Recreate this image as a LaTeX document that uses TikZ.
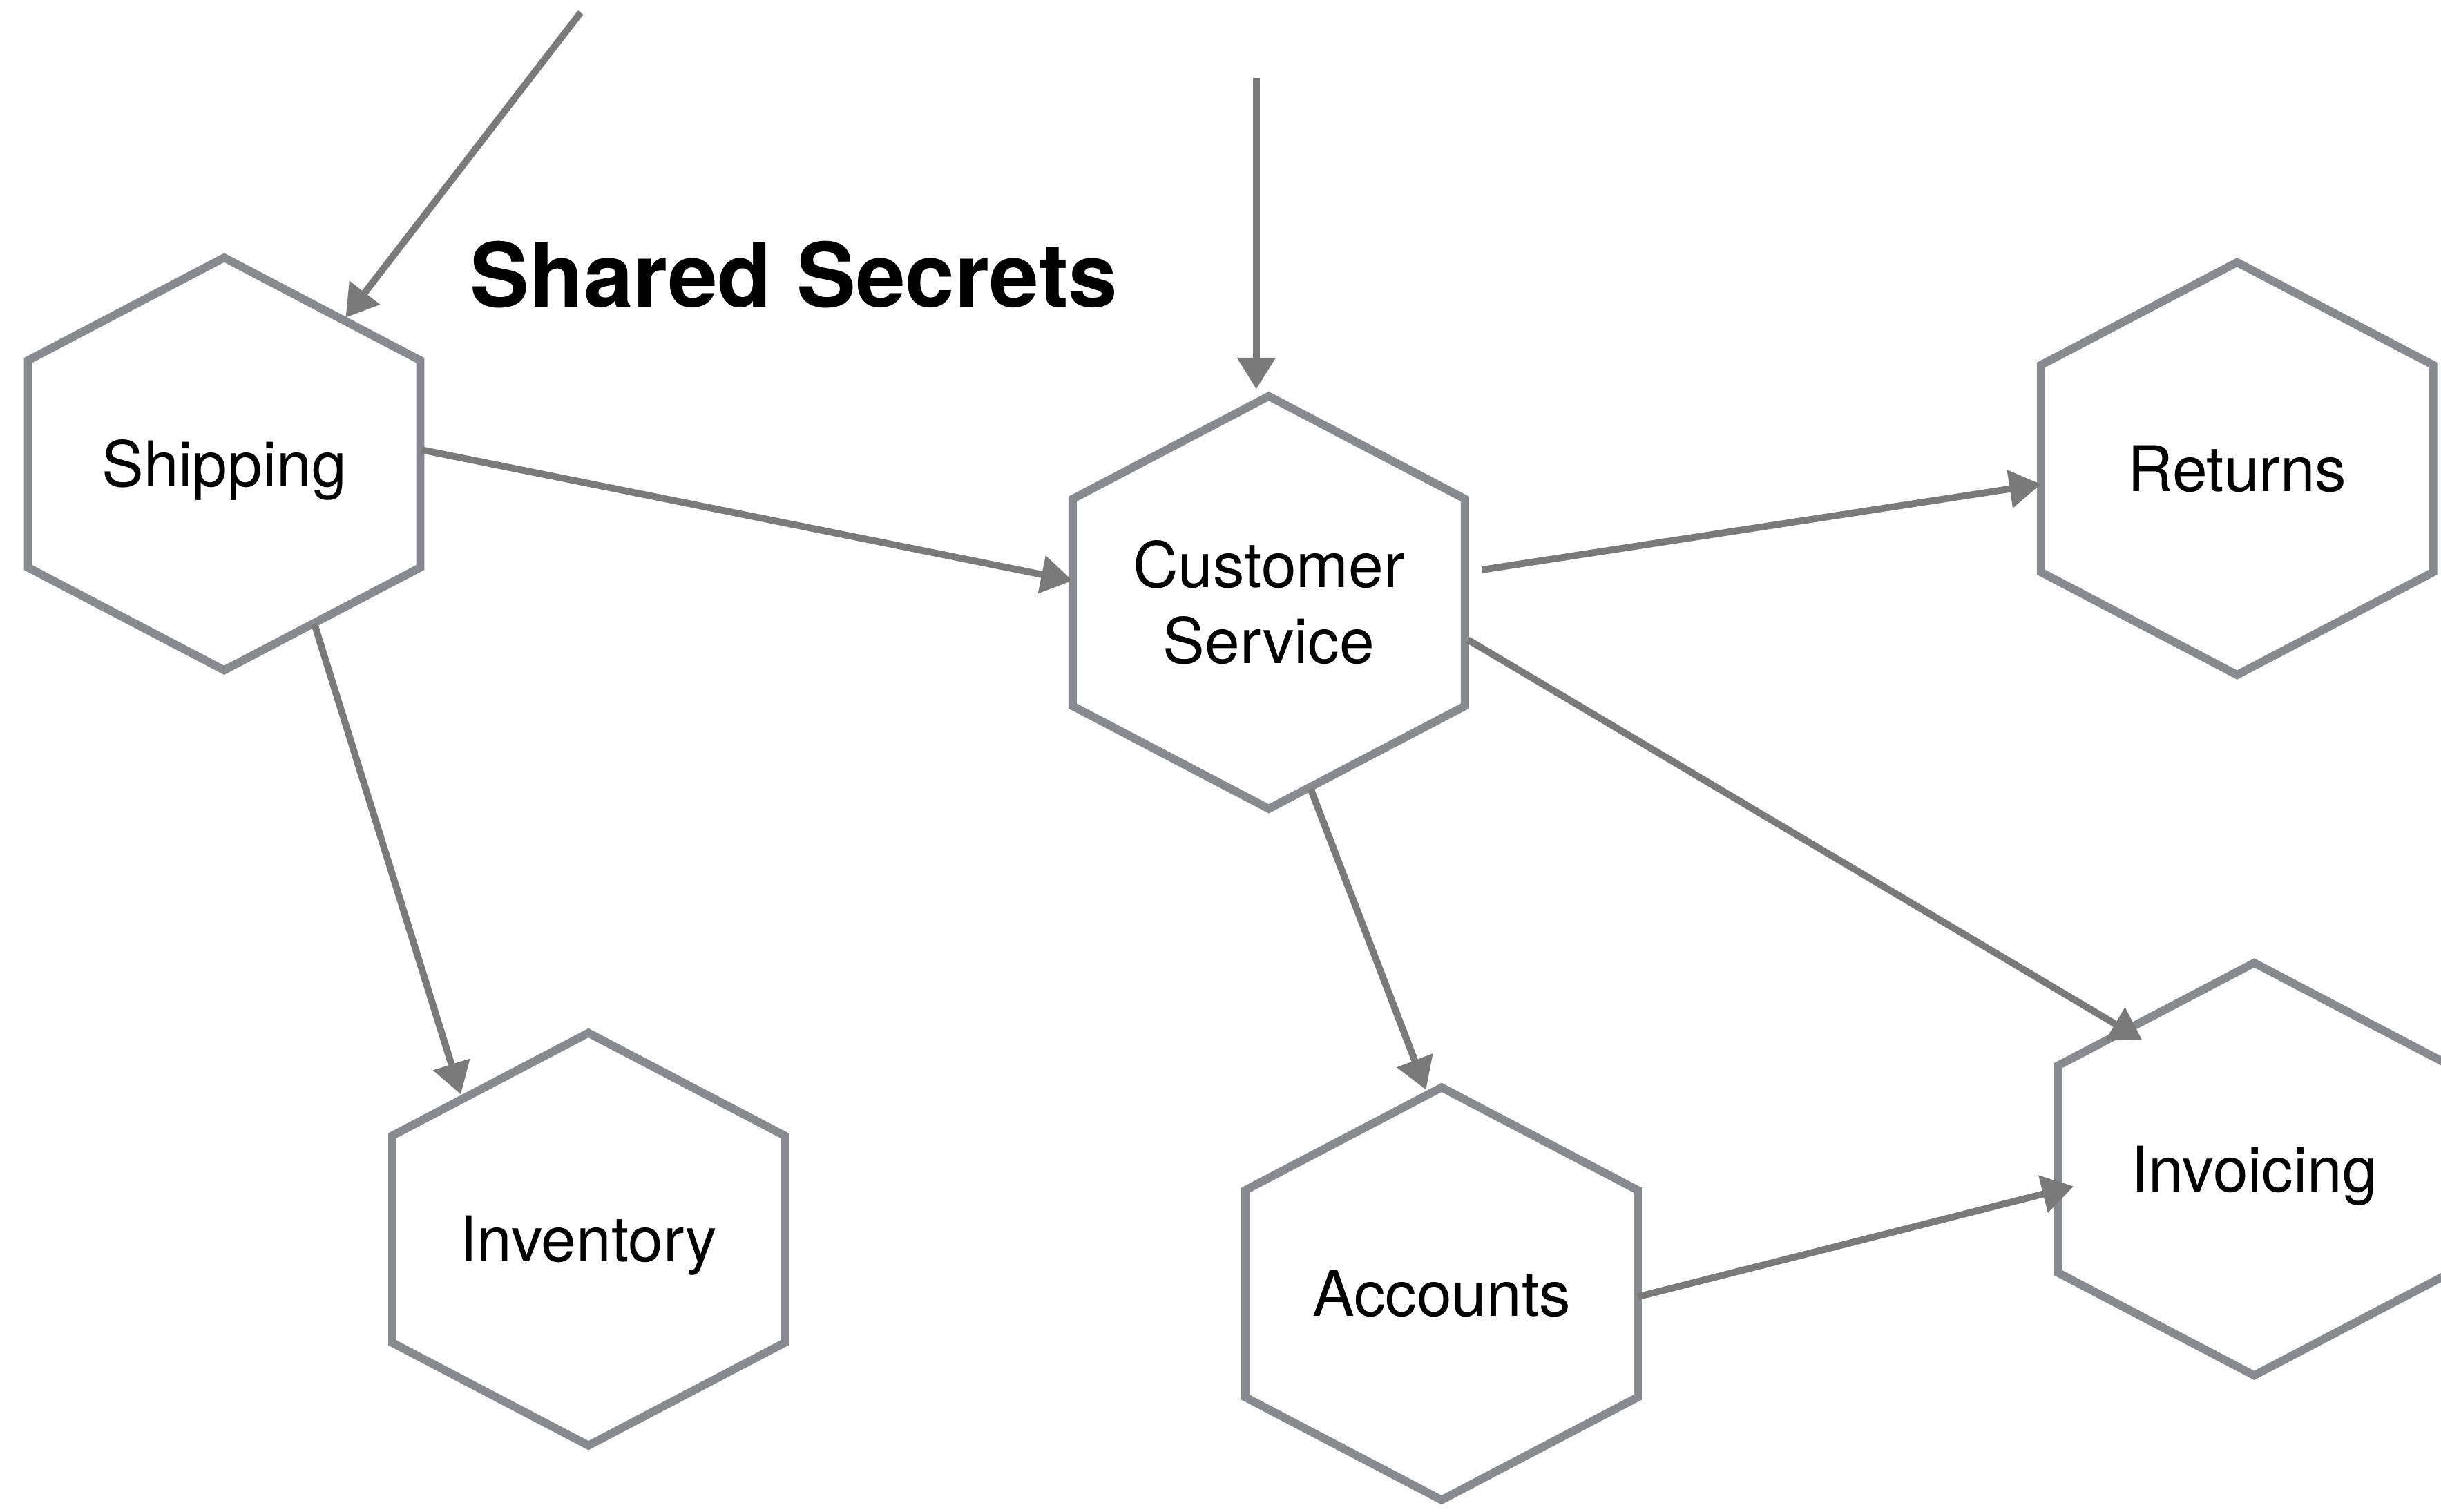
\documentclass[tikz,border=0pt]{standalone}
\usepackage{fontspec}
\setmainfont{TeX Gyre Heros}
\usetikzlibrary{calc,arrows.meta}

\definecolor{hexgray}{RGB}{135,138,142}
\definecolor{flowgray}{RGB}{122,122,122}

\tikzset{
	hexline/.style={draw=hexgray,line width=3pt},
	flow/.style={color=flowgray,line width=2.5pt,-{Triangle[length=11.5pt,width=13.5pt]}},
	svc/.style={font=\fontsize{23}{28}\selectfont,align=center,inner sep=0pt},
	flat/.style={text height=16.5pt,text depth=0pt},
}

\begin{document}
\begin{tikzpicture}[x=0.02cm,y=-0.02cm]
		\useasboundingbox (0,0) rectangle (1568,971);
		% services
		\node[svc,flat] (ship) at (144,298) {Shipping};
		\node[svc] (cust) at (815,387) {Customer\\Service};
		\node[svc,flat] (ret) at (1437,301) {Returns};
		\node[svc,flat] (inv) at (378,796) {Inventory};
		\node[svc,flat] (acc) at (926,831) {Accounts};
		\node[svc,flat] (invo) at (1448,751) {Invoicing};
		\node[font=\bfseries\fontsize{32.5}{38}\selectfont,anchor=base,inner sep=0pt] (title) at (510,197) {Shared Secrets};
		
		\foreach \n in {ship,cust,ret,inv,acc,invo}
			\draw[hexline,shift={(\n)}] (0,-132.5) -- (126,-66.5) -- (126,66.5) -- (0,132.5)
				-- (-126,66.5) -- (-126,-66.5) -- cycle;
		
		\coordinate (in1) at (373,8);
		\coordinate (in2) at (807,50);
		\path[flow]
		(in1) edge ($(ship)+(78,-94)$)
		(in2) edge ($(cust)+(-8,-137)$)
		($(ship)+(127,-9)$) edge ($(cust)+(-126,-14)$)
		($(ship)+(58,103)$) edge ($(inv)+(-82,-93)$)
		($(cust)+(137,-21)$) edge ($(ret)+(-126,10)$)
		($(cust)+(128,24)$) edge ($(invo)+(-72,-83)$)
		($(cust)+(27,120)$) edge ($(acc)+(-10,-131)$)
		($(acc)+(126,2)$) edge ($(invo)+(-116,11)$);
		
	\end{tikzpicture}
\end{document}
